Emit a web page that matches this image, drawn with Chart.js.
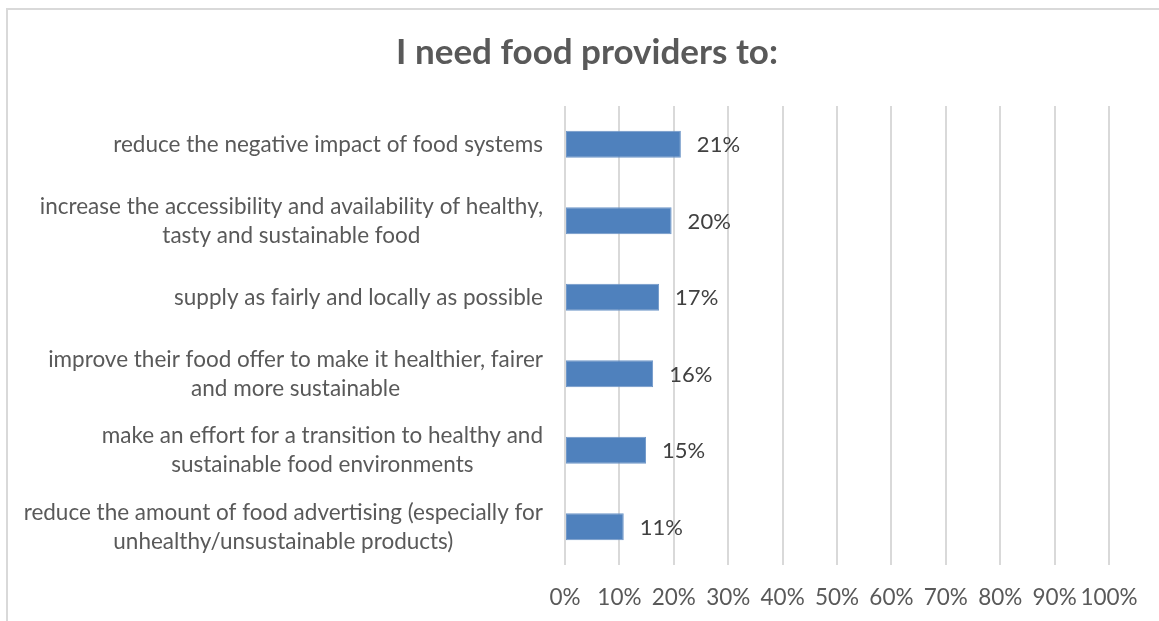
<!DOCTYPE html>
<html>
<head>
<meta charset="utf-8">
<title>I need food providers to:</title>
<script src="https://cdn.jsdelivr.net/npm/chart.js@4.4.1/dist/chart.umd.min.js"></script>
<style>
    html, body { margin: 0; padding: 0; background: #fff; overflow: hidden; }
    #frame {
        position: absolute; left: 6px; top: 8px; width: 1200px; height: 700px;
        border-top: 2px solid #d9d9d9; border-left: 2px solid #d9d9d9;
    }
    #wrap { position: absolute; left: 0; top: 0; width: 1159px; height: 621px; }
</style>
</head>
<body>
<div id="frame"></div>
<div id="wrap"><canvas id="providersChart" width="1159" height="621"></canvas></div>
<script>
const categories = [
    ["reduce the negative impact of food systems"],
    ["increase the accessibility and availability of healthy,", "tasty and sustainable food"],
    ["supply as fairly and locally as possible"],
    ["improve their food offer to make it healthier, fairer", "and more sustainable"],
    ["make an effort for a transition to healthy and", "sustainable food environments"],
    ["reduce the amount of food advertising (especially for", "unhealthy/unsustainable products)"]
];
const shares = [0.213, 0.196, 0.173, 0.162, 0.149, 0.108];
const xTickLabels = ["0%", "10%", "20%", "30%", "40%", "50%", "60%", "70%", "80%", "90%", "100%"];

const FONT = "Lato, 'Open Sans', sans-serif";
const TEXT = "#595959";

// category text: each block right-aligned, its lines centred on each other
const categoryLabels = {
    id: "categoryLabels",
    afterDraw(chart) {
        const ctx = chart.ctx;
        const y = chart.scales.y;
        ctx.save();
        ctx.font = "22.5px " + FONT;
        ctx.fillStyle = TEXT;
        ctx.textAlign = "center";
        ctx.textBaseline = "middle";
        chart.data.labels.forEach((lines, i) => {
            const yc = y.getPixelForTick(i);
            const w = Math.max(...lines.map(l => ctx.measureText(l).width));
            const xc = y.right - 22 - w / 2;
            lines.forEach((l, j) => {
                ctx.fillText(l, xc, yc + (j - (lines.length - 1) / 2) * 29);
            });
        });
        ctx.restore();
    }
};

// percentage next to the end of each bar
const valueLabels = {
    id: "valueLabels",
    afterDatasetsDraw(chart) {
        const ctx = chart.ctx;
        ctx.save();
        ctx.font = "22px " + FONT;
        ctx.fillStyle = "#404040";
        ctx.textAlign = "left";
        ctx.textBaseline = "middle";
        chart.getDatasetMeta(0).data.forEach((bar, i) => {
            ctx.fillText(Math.round(shares[i] * 100) + "%", bar.x + 16, bar.y + 1);
        });
        ctx.restore();
    }
};

const chart = new Chart(document.getElementById("providersChart"), {
    type: "bar",
    data: {
        labels: categories,
        datasets: [{
            data: shares,
            backgroundColor: "#4f81bd",
            borderColor: "#6f97c8",
            borderWidth: 1,
            borderSkipped: false,
            barPercentage: 0.353,
            categoryPercentage: 1
        }]
    },
    options: {
        indexAxis: "y",
        responsive: false,
        animation: false,
        devicePixelRatio: 1,
        layout: { padding: { left: 65, right: 50, top: 0, bottom: 9 } },
        plugins: {
            legend: { display: false },
            tooltip: { enabled: false },
            title: {
                display: true,
                text: "I need food providers to:",
                color: TEXT,
                font: { family: FONT, size: 35, weight: "bold" },
                padding: { top: 32, bottom: 32 }
            }
        },
        scales: {
            x: {
                min: 0,
                max: 1,
                ticks: {
                    stepSize: 0.1,
                    color: TEXT,
                    font: { family: FONT, size: 22.5 },
                    padding: 19,
                    maxRotation: 0,
                    minRotation: 0,
                    autoSkip: false,
                    callback: (v, i) => xTickLabels[i]
                },
                grid: { color: "#d9d9d9", lineWidth: 2, drawTicks: false },
                border: { display: false },
                afterFit: s => { s.height = 47; }
            },
            y: {
                ticks: { display: false },
                grid: { display: false },
                border: { display: false },
                afterFit: s => { s.width = 500; }
            }
        }
    },
    plugins: [categoryLabels, valueLabels]
});
</script>
</body>
</html>
